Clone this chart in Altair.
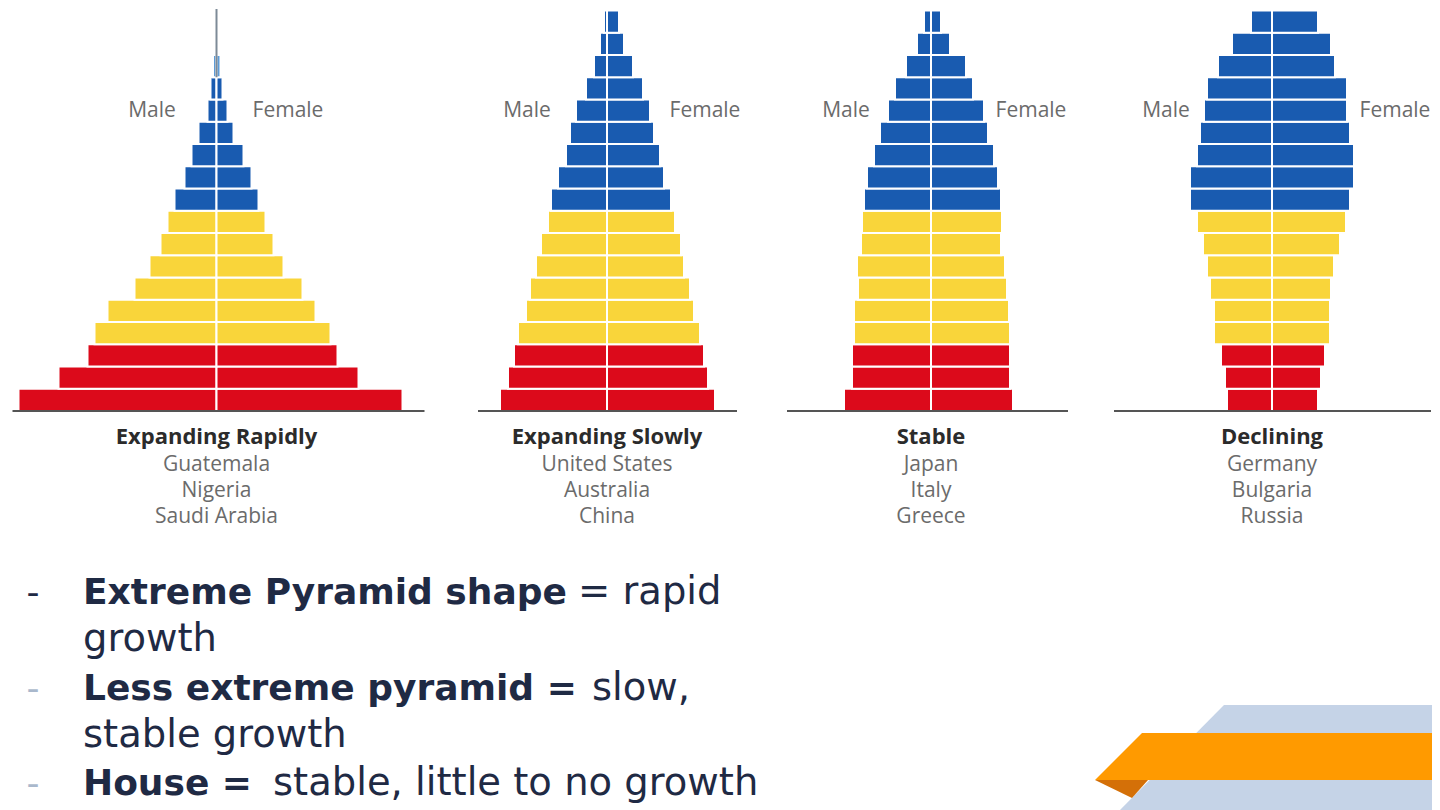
import altair as alt
import pandas as pd

# ------------------------------------------------------------------ data
# 18 age-group rows, listed from the bottom (youngest) to the top (oldest)
rows = list(range(1, 19))
row_band = ["young"] * 3 + ["working"] * 6 + ["old"] * 9

rapid_male = [198, 158, 129, 122, 109, 82, 67, 56, 49, 42, 32, 25, 18, 9, 6, 3.5, 0, 0]
rapid_female = [186, 142, 121, 114, 99, 86, 67, 57, 49, 42, 35, 27, 17, 11, 6, 4, 0, 0]
rapid_band = row_band[:15] + ["thin", "old", "old"]

slow_male = [107, 99, 93, 89, 81, 77, 71, 66, 59, 56, 49, 41, 37, 31, 21, 13, 7, 3]
slow_female = [108, 101, 97, 93, 87, 83, 77, 74, 68, 64, 57, 53, 47, 43, 36, 26, 17, 12]

stable_male = [87, 79, 79, 77, 77, 73, 74, 70, 69, 67, 64, 57, 51, 43, 36, 25, 14, 7]
stable_female = [82, 79, 79, 79, 78, 76, 74, 70, 71, 70, 67, 63, 57, 53, 42, 35, 19, 10]

decl_male = [45, 47, 51, 58, 58, 62, 65, 69, 75, 82, 82, 75, 72, 68, 65, 54, 40, 21]
decl_female = [46, 49, 53, 58, 58, 59, 62, 68, 74, 78, 82, 82, 78, 75, 75, 63, 59, 46]

titles = ["Expanding Rapidly", "Expanding Slowly", "Stable", "Declining"]
countries = [
    ["Guatemala", "Nigeria", "Saudi Arabia"],
    ["United States", "Australia", "China"],
    ["Japan", "Italy", "Greece"],
    ["Germany", "Bulgaria", "Russia"],
]
sex_labels = ["Male", "Female"]

bullet_bold = ["Extreme Pyramid shape", "Less extreme pyramid =", "House ="]
bullet_normal = ["= rapid", "growth", "slow,", "stable growth", "stable, little to no growth"]

# ------------------------------------------------------------------ layout / style
H = 810
ROW_PX = 22.25
TOP_PAD = 1.5
y_top = 18 + TOP_PAD / ROW_PX
y_dom = [y_top - H / ROW_PX, y_top]

panel_widths = [443, 311, 329, 341]
x_domains = [[-208.5, 234.5], [-156, 155], [-169, 160], [-181, 160]]
baseline_ext = [[-204, 208], [-129, 130], [-144, 137], [-158, 159]]
label_x = [[-64.5, 71.5], [-80, 98], [-85, 100], [-106, 123]]
caption_y = [428, 456, 482, 508]

BAND_DOMAIN = ["young", "working", "old", "thin"]
BAND_COLORS = ["#dc0a1b", "#f9d53a", "#195bb0", "#5d9bd6"]
LABEL_FONT = "Open Sans"
BODY_FONT = "DejaVu Sans"
NAVY = "#1f2a44"

# bullet text segments: (text, bold, x px, baseline y px, colour)
segments = [
    ("-", False, 25, 595, NAVY),
    (bullet_bold[0], True, 75, 595, NAVY),
    (bullet_normal[0], False, 570, 595, NAVY),
    (bullet_normal[1], False, 75, 642, NAVY),
    ("-", False, 25, 691, "#a9b8cc"),
    (bullet_bold[1], True, 75, 691, NAVY),
    (bullet_normal[2], False, 584, 691, NAVY),
    (bullet_normal[3], False, 75, 738, NAVY),
    ("-", False, 25, 786, "#a9b8cc"),
    (bullet_bold[2], True, 75, 786, NAVY),
    (bullet_normal[4], False, 265, 786, NAVY),
]

# decorative ribbon, pixel coordinates inside the last panel
grey_py, grey_px, grey_px2 = [696, 802], [133, 28], [341, 341]
orange_py, orange_px, orange_px2 = [724, 771], [51, 4], [341, 341]
fold_px, fold_py, fold_py2 = [4, 41, 57], [771, 771, 771], [771, 789, 771]


def pyramid(idx, male, female, bands, with_stem=False):
    recs = []
    for r, m, f, b in zip(rows, male, female, bands):
        if m > 0:
            recs.append({"row": r, "sex": "Male", "value": m, "band": b})
        if f > 0:
            recs.append({"row": r, "sex": "Female", "value": f, "band": b})
    df = pd.DataFrame(recs)
    xs = alt.Scale(domain=x_domains[idx], nice=False, zero=False)
    ys = alt.Scale(domain=y_dom, nice=False, zero=False)

    bars = (
        alt.Chart(df)
        .transform_calculate(
            xv="datum.sex == 'Male' ? -datum.value : datum.value",
            zero="0",
            r0="datum.row - 1",
        )
        .mark_rect(stroke="white", strokeWidth=2)
        .encode(
            x=alt.X("xv:Q", scale=xs, axis=None),
            x2="zero:Q",
            y=alt.Y("r0:Q", scale=ys, axis=None),
            y2="row:Q",
            color=alt.Color(
                "band:N",
                scale=alt.Scale(domain=BAND_DOMAIN, range=BAND_COLORS),
                legend=None,
            ),
        )
    )

    base_df = pd.DataFrame({"x0": [baseline_ext[idx][0]], "x1": [baseline_ext[idx][1]], "y0": [0]})
    baseline = (
        alt.Chart(base_df)
        .mark_rule(color="#555555", strokeWidth=2)
        .encode(x=alt.X("x0:Q", scale=xs, axis=None), x2="x1:Q",
                y=alt.Y("y0:Q", scale=ys, axis=None))
    )

    lab_df = pd.DataFrame({"label": sex_labels, "lx": label_x[idx]})
    labels = (
        alt.Chart(lab_df)
        .mark_text(font=LABEL_FONT, fontSize=21, color="#6b6b6b", baseline="middle")
        .encode(x=alt.X("lx:Q", scale=xs, axis=None), y=alt.value(102), text="label:N")
    )

    layers = [bars, baseline, labels]

    cap_df = pd.DataFrame({"t": [titles[idx]] + countries[idx], "cx": [0, 0, 0, 0]})
    for k in range(4):
        layers.append(
            alt.Chart(cap_df.iloc[[k]])
            .mark_text(
                font=LABEL_FONT,
                fontSize=22 if k == 0 else 21,
                fontWeight="bold" if k == 0 else "normal",
                color="#2b2b2b" if k == 0 else "#6b6b6b",
                baseline="middle",
            )
            .encode(x=alt.X("cx:Q", scale=xs, axis=None), y=alt.value(caption_y[k]), text="t:N")
        )

    if with_stem:
        stem_df = pd.DataFrame({"sx": [0], "a": [15.0], "b": [y_top]})
        stem = (
            alt.Chart(stem_df)
            .mark_rule(color="#7d8a97", strokeWidth=2)
            .encode(x=alt.X("sx:Q", scale=xs, axis=None),
                    y=alt.Y("a:Q", scale=ys, axis=None), y2="b:Q")
        )
        layers.insert(1, stem)
    return layers, xs, ys


# ---------------- panel 1 (+ bullet text)
l1, xs1, ys1 = pyramid(0, rapid_male, rapid_female, rapid_band, with_stem=True)
for text, bold, px, py, col in segments:
    l1.append(
        alt.Chart(pd.DataFrame({"t": [text]}))
        .mark_text(
            font=BODY_FONT,
            fontSize=36 if bold or text == "-" else 38.5,
            fontWeight="bold" if bold else "normal",
            color=col,
            align="left" if text != "-" else "center",
            baseline="alphabetic",
        )
        .encode(x=alt.value(px), y=alt.value(py), text="t:N")
    )
p1 = alt.layer(*l1).properties(width=panel_widths[0], height=H)

l2, _, _ = pyramid(1, slow_male, slow_female, row_band)
p2 = alt.layer(*l2).properties(width=panel_widths[1], height=H)
l3, _, _ = pyramid(2, stable_male, stable_female, row_band)
p3 = alt.layer(*l3).properties(width=panel_widths[2], height=H)

# ---------------- panel 4 (+ ribbon, placed in the panel's own scales)
l4, xs4, ys4 = pyramid(3, decl_male, decl_female, row_band)
x_off = x_domains[3][0]
px_to_x = f"datum.px + ({x_off})"
px2_to_x = f"datum.px2 + ({x_off})"
py_to_y = f"{y_top} - datum.py / {ROW_PX}"
py2_to_y = f"{y_top} - datum.py2 / {ROW_PX}"

grey = (
    alt.Chart(pd.DataFrame({"py": grey_py, "px": grey_px, "px2": grey_px2}))
    .transform_calculate(xa=px_to_x, xb=px2_to_x, ya=py_to_y)
    .mark_area(orient="horizontal", color="#c5d3e7")
    .encode(
        y=alt.Y("ya:Q", scale=ys4, axis=None),
        x=alt.X("xa:Q", scale=xs4, axis=None, stack=None),
        x2="xb:Q",
    )
)
orange = (
    alt.Chart(pd.DataFrame({"py": orange_py, "px": orange_px, "px2": orange_px2}))
    .transform_calculate(xa=px_to_x, xb=px2_to_x, ya=py_to_y)
    .mark_area(orient="horizontal", color="#ff9a00")
    .encode(
        y=alt.Y("ya:Q", scale=ys4, axis=None),
        x=alt.X("xa:Q", scale=xs4, axis=None, stack=None),
        x2="xb:Q",
    )
)
fold = (
    alt.Chart(pd.DataFrame({"px": fold_px, "py": fold_py, "py2": fold_py2}))
    .transform_calculate(xa=px_to_x, ya=py_to_y, yb=py2_to_y)
    .mark_area(orient="vertical", color="#d47008")
    .encode(
        x=alt.X("xa:Q", scale=xs4, axis=None),
        y=alt.Y("ya:Q", scale=ys4, axis=None, stack=None),
        y2="yb:Q",
    )
)
p4 = alt.layer(grey, orange, fold, *l4).properties(width=panel_widths[3], height=H)

chart = (
    alt.hconcat(p1, p2, p3, p4, spacing=0, bounds="flush")
    .properties(padding=0, background="white")
    .configure_view(stroke=None)
)

chart.save("out.html", embed_options={"renderer": "svg", "actions": False})
